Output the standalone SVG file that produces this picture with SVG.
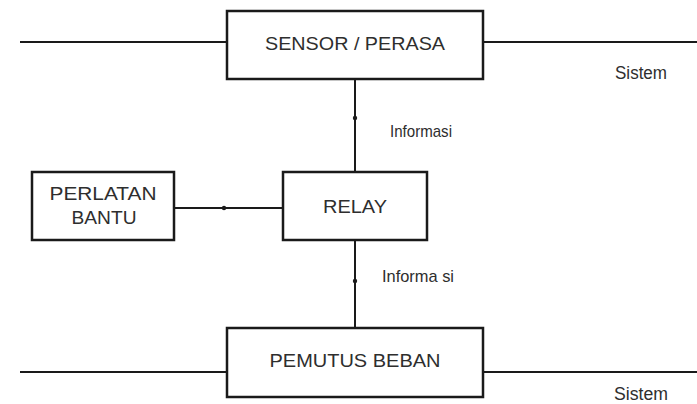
<svg xmlns="http://www.w3.org/2000/svg" width="697" height="404" viewBox="0 0 697 404">
  <style>
    .box { fill: #ffffff; stroke: #1a1a1a; stroke-width: 2.5; }
    .line { fill: none; stroke: #1a1a1a; stroke-width: 2; }
    .dot { fill: #1a1a1a; }
    .lbl { font-family: "Liberation Sans", Arial, sans-serif; font-size: 19px; fill: #2e2e2e; text-anchor: middle; }
    .note { font-family: "Liberation Sans", Arial, sans-serif; font-size: 17px; fill: #2e2e2e; }
    .sys { font-family: "Liberation Sans", Arial, sans-serif; font-size: 18px; fill: #2e2e2e; }
  </style>
  <rect width="697" height="404" fill="#ffffff"/>

  <!-- connectors: system lines and information paths -->
  <g id="connectors">
    <line class="line" x1="20" y1="42" x2="227" y2="42"/>
    <line class="line" x1="483" y1="42" x2="697" y2="42"/>
    <line class="line" x1="20" y1="372" x2="227" y2="372"/>
    <line class="line" x1="483" y1="372" x2="697" y2="372"/>
    <line class="line" x1="355" y1="79" x2="355" y2="172"/>
    <line class="line" x1="355" y1="240" x2="355" y2="328"/>
    <line class="line" x1="174" y1="208" x2="283" y2="208"/>
    <circle class="dot" cx="355" cy="118" r="2.2"/>
    <circle class="dot" cx="355" cy="281" r="2.2"/>
    <circle class="dot" cx="224" cy="208" r="2.2"/>
  </g>

  <g id="sensor">
    <rect class="box" x="227" y="11" width="256" height="68"/>
    <text class="lbl" x="355" y="50" textLength="180" lengthAdjust="spacingAndGlyphs">SENSOR / PERASA</text>
  </g>

  <g id="relay">
    <rect class="box" x="283" y="172" width="144" height="68"/>
    <text class="lbl" x="355" y="213" textLength="64" lengthAdjust="spacingAndGlyphs">RELAY</text>
  </g>

  <g id="perlatan">
    <rect class="box" x="32" y="172" width="142" height="68"/>
    <text class="lbl" x="103" y="200" textLength="107" lengthAdjust="spacingAndGlyphs">PERLATAN</text>
    <text class="lbl" x="104" y="224" textLength="65" lengthAdjust="spacingAndGlyphs">BANTU</text>
  </g>

  <g id="pemutus">
    <rect class="box" x="227" y="328" width="256" height="69"/>
    <text class="lbl" x="355" y="367" textLength="171" lengthAdjust="spacingAndGlyphs">PEMUTUS BEBAN</text>
  </g>

  <g id="labels">
    <text class="note" x="390" y="137" textLength="62" lengthAdjust="spacingAndGlyphs">Informasi</text>
    <text class="note" x="382" y="282" textLength="72" lengthAdjust="spacingAndGlyphs">Informa si</text>
    <text class="sys" x="615" y="79" textLength="52" lengthAdjust="spacingAndGlyphs">Sistem</text>
    <text class="sys" x="614" y="400" textLength="54" lengthAdjust="spacingAndGlyphs">Sistem</text>
  </g>
</svg>
